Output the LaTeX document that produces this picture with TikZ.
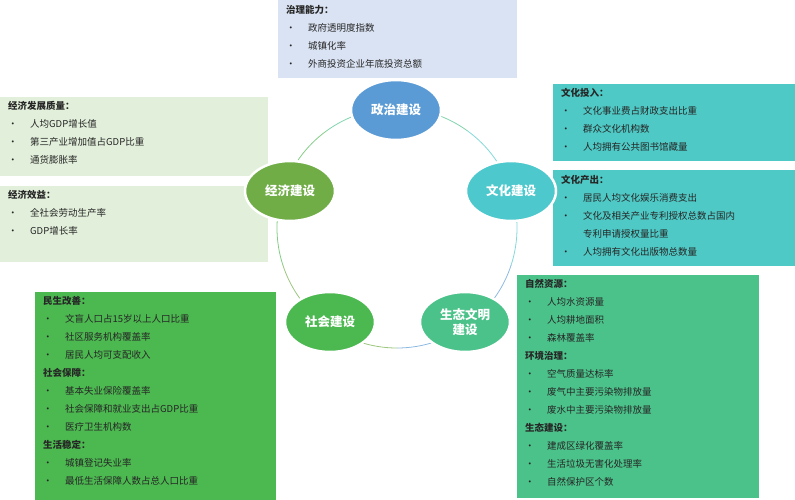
\documentclass[tikz,border=0pt]{standalone}
\usepackage{fontspec}
\usetikzlibrary{shapes.geometric}
\setmainfont{Noto Sans CJK SC}
\begin{document}
\newcommand{\bl}[1]{\makebox[22pt][l]{•}#1}
\begin{tikzpicture}[x=1pt,y=-1pt,
  box/.style={draw=none,anchor=north west},
  txt/.style={anchor=north west,align=left,font=\fontsize{9.5}{18}\selectfont,inner sep=0pt,text=black!85},
  pill/.style={ellipse,minimum width=90pt,minimum height=60pt,inner sep=0pt,text=white,font=\fontsize{12.5}{15}\selectfont\bfseries,align=center,draw=white,line width=2.5pt}]
\useasboundingbox (0,0) rectangle (795,500);
\definecolor{lb}{HTML}{DAE3F3}\definecolor{lg}{HTML}{E2EFDA}
\definecolor{cy}{HTML}{4EC9C5}\definecolor{gr}{HTML}{4CB850}\definecolor{eg}{HTML}{4BC28A}
\definecolor{c1}{HTML}{5B9BD5}\definecolor{c2}{HTML}{4DC8CC}\definecolor{c3}{HTML}{70AD47}
% boxes
\fill[lb] (278,0) rectangle (517,78);
\fill[lg] (0,97) rectangle (268,176);
\fill[lg] (0,186) rectangle (268,262);
\fill[cy] (553,84) rectangle (795,161);
\fill[cy] (553,170) rectangle (795,266);
\fill[gr] (35,292) rectangle (276,500);
\fill[eg] (517,275) rectangle (759,498);
\node[txt] (t1) at (286,5) {\textbf{治理能力：}\\\bl{政府透明度指数}\\\bl{城镇化率}\\\bl{外商投资企业年底投资总额}};
\node[txt] (t2) at (8,101) {\textbf{经济发展质量：}\\\bl{人均GDP增长值}\\\bl{第三产业增加值占GDP比重}\\\bl{通货膨胀率}};
\node[txt] (t3) at (8,190) {\textbf{经济效益：}\\\bl{全社会劳动生产率}\\\bl{GDP增长率}};
\node[txt] (t4) at (561,88) {\textbf{文化投入：}\\\bl{文化事业费占财政支出比重}\\\bl{群众文化机构数}\\\bl{人均拥有公共图书馆藏量}};
\node[txt] (t5) at (561,175) {\textbf{文化产出：}\\\bl{居民人均文化娱乐消费支出}\\\bl{文化及相关产业专利授权总数占国内}\\\makebox[22pt]{}专利申请授权量比重\\\bl{人均拥有文化出版物总数量}};
\node[txt] (t6) at (43,296) {\textbf{民生改善：}\\\bl{文盲人口占15岁以上人口比重}\\\bl{社区服务机构覆盖率}\\\bl{居民人均可支配收入}\\\textbf{社会保障：}\\\bl{基本失业保险覆盖率}\\\bl{社会保障和就业支出占GDP比重}\\\bl{医疗卫生机构数}\\\textbf{生活稳定：}\\\bl{城镇登记失业率}\\\bl{最低生活保障人数占总人口比重}};
\node[txt] (t7) at (525,279) {\textbf{自然资源：}\\\bl{人均水资源量}\\\bl{人均耕地面积}\\\bl{森林覆盖率}\\\textbf{环境治理：}\\\bl{空气质量达标率}\\\bl{废气中主要污染物排放量}\\\bl{废水中主要污染物排放量}\\\textbf{生态建设：}\\\bl{建成区绿化覆盖率}\\\bl{生活垃圾无害化处理率}\\\bl{自然保护区个数}};
% ring
\coordinate (o) at (397,228);
\draw[c1!70,line width=0.8pt] (o) ++(90:120) arc[start angle=90,end angle=18,radius=120];
\draw[c2!70,line width=0.8pt] (o) ++(18:120) arc[start angle=18,end angle=-54,radius=120];
\draw[eg!70,line width=0.8pt] (o) ++(-54:120) arc[start angle=-54,end angle=-126,radius=120];
\draw[gr!70,line width=0.8pt] (o) ++(-126:120) arc[start angle=-126,end angle=-198,radius=120];
\draw[c3!70,line width=0.8pt] (o) ++(162:120) arc[start angle=162,end angle=90,radius=120];
\node[pill,fill=c1] (p1) at (396,110) {政治建设};
\node[pill,fill=c2] (p2) at (511,191) {文化建设};
\node[pill,fill=c3] (p3) at (290,191) {经济建设};
\node[pill,fill=gr] (p4) at (330,322) {社会建设};
\node[pill,fill=eg] (p5) at (465,322) {生态文明\\建设};
\end{tikzpicture}
\end{document}
